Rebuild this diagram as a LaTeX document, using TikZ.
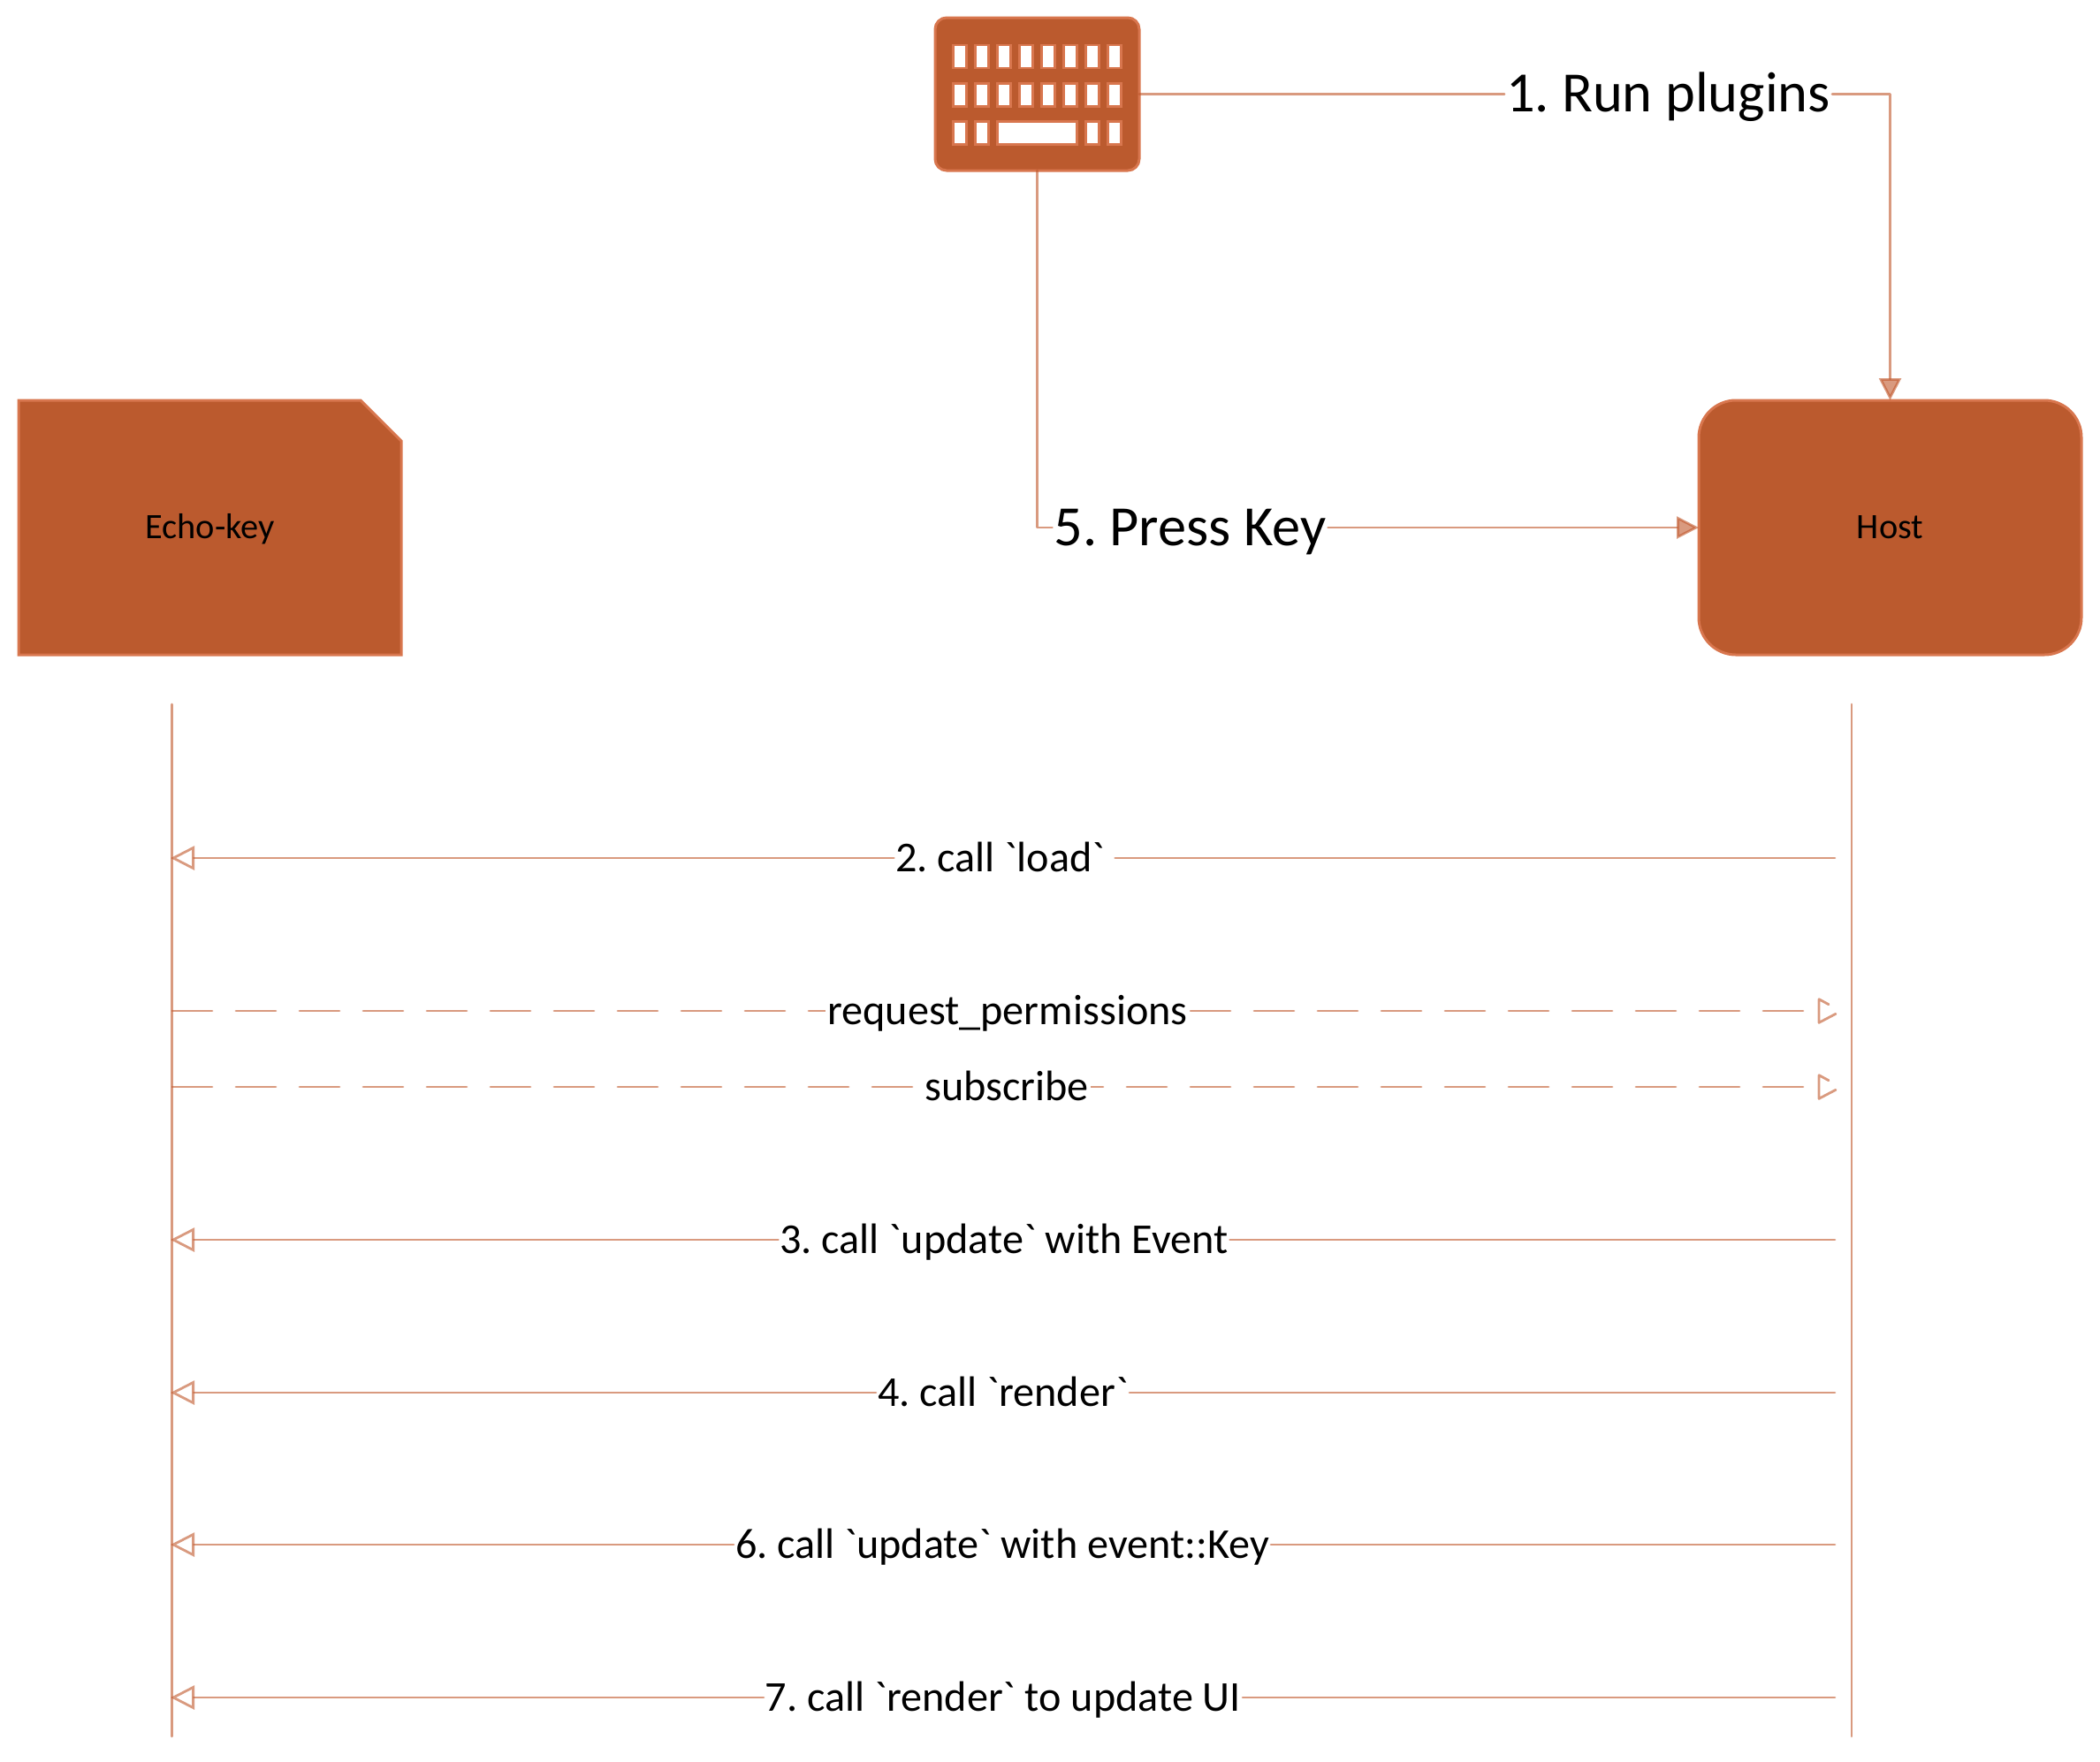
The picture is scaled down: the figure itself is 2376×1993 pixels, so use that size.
\documentclass[tikz,border=0pt]{standalone}
\usepackage{fontspec}
\usetikzlibrary{arrows.meta,shapes.misc,calc}
\newfontfamily\carl{Carlito}
\newcommand{\numgap}{\kern-.08em}
\definecolor{boxfill}{HTML}{BB5A2E}
\definecolor{boxline}{HTML}{D8764E}
\definecolor{linkcol}{HTML}{C0562A}
\tikzset{
  box/.style={draw=boxline,fill=boxfill,line width=1.5pt,minimum width=216.5pt,minimum height=144pt,inner sep=0pt,outer sep=0pt,font=\carl\fontsize{20.2}{24}\selectfont,text=black,text height=12.4pt,text depth=0pt},
  keycap/.style={draw=boxline,fill=white,line width=1.35pt},
  link/.style={draw=linkcol,opacity=.6,line width=1.4pt,line cap=round,line join=round},
  big/.style={inner xsep=1pt,inner ysep=0pt,outer sep=0pt,font=\carl\fontsize{32.2}{38}\selectfont,text=black,text height=20.2pt,text depth=0pt},
  msg/.style={fill=white,inner xsep=1pt,inner ysep=0pt,outer sep=0pt,font=\carl\fontsize{24.1}{30}\selectfont,text=black,text height=15.5pt,text depth=0pt},
  solidtip/.style={-{Triangle[length=12.5pt,width=12.5pt]}},
  opentip/.style={-{Triangle[open,length=13.5pt,width=13.5pt]}},
  dashline/.style={link,dash pattern=on 22.5pt off 13.5pt},
  dashhead/.pic={\draw[link] (11,-7.3)--(0,-13.3)--(0,13.3)--(19,3.3);}
}
\begin{document}
\begin{tikzpicture}[x=0.5pt,y=-0.5pt]
\useasboundingbox (0,0) rectangle (2376,1993);
% actors
\node[box,chamfered rectangle,chamfered rectangle corners=north east,chamfered rectangle xsep=17.6pt,chamfered rectangle ysep=16.8pt] (echo) at (237.5,597) {Echo-key};
\node[box,rounded corners=21pt] (host) at (2138.5,597) {Host};
\node[draw=boxline,fill=boxfill,line width=1.5pt,minimum width=115.5pt,minimum height=86.5pt,inner sep=0pt,outer sep=0pt,rounded corners=6.5pt] (kb) at (1173.5,106.5) {};
% keys
\foreach \ky in {64,107.5}{\foreach \kn in {0,...,7}{
  \draw[keycap] ({1086+25*\kn-7.4},\ky-12.9) rectangle ({1086+25*\kn+7.4},\ky+12.9);}}
\foreach \kx in {1086,1111,1236,1261}{
  \draw[keycap] (\kx-7.4,150.5-12.9) rectangle (\kx+7.4,150.5+12.9);}
\draw[keycap] (1128.7,150.5-12.9) rectangle (1218.7,150.5+12.9);
% top connectors
\node[big] (run) at (1887.5,106.5) {1.\numgap{} Run plugins};
\node[big] (press) at (1346.5,597) {5.\numgap{} Press Key};
\draw[link] (kb.east) -- (run.west);
\draw[link,solidtip] (run.east) -| (host.north);
\draw[link] (kb.south) |- (press.west);
\draw[link,solidtip] (press.east) -- (host.west);
% lifelines
\coordinate (la) at (194.5,797);
\coordinate (lb) at (194.5,1965);
\coordinate (ra) at (2095,797);
\coordinate (rb) at (2095,1965);
\draw[link] (la) -- (lb);
\draw[link] (ra) -- (rb);
% messages
\foreach \nm/\yy in {m2/971,m3/1403,m4/1576,m6/1748,m7/1921}{
  \coordinate (\nm l) at (193,\yy);
  \coordinate (\nm r) at (2076,\yy);
}
\coordinate (mrs) at (195,1144);
\coordinate (mre) at (2058,1144);
\coordinate (mss) at (195,1230);
\coordinate (mse) at (2058,1230);
\node[msg] (t2) at (1136.5,971) {2.\numgap{} call `load`\kern5pt};
\node[msg] (t3) at (1136,1403) {3.\numgap{} call `update` with Event};
\node[msg] (t4) at (1134.5,1576) {4.\numgap{} call `render`};
\node[msg] (t6) at (1134,1748) {6.\numgap{} call `update` with event::Key};
\node[msg] (t7) at (1135,1921) {7.\numgap{} call `render` to update UI};
\foreach \nm/\tx in {m2/t2,m3/t3,m4/t4,m6/t6,m7/t7}{
  \draw[link] (\nm r) -- (\tx.east);
  \draw[link,opentip] (\tx.west) -- (\nm l);
}
\draw[dashline] (mrs) -- (mre);
\draw[dashline] (mss) -- (mse);
\pic at (mre) {dashhead};
\pic at (mse) {dashhead};
\node[msg] (tr) at (1140,1144) {request\_permissions};
\node[msg] (ts) at (1139,1230) {subscribe};
\end{tikzpicture}
\end{document}
